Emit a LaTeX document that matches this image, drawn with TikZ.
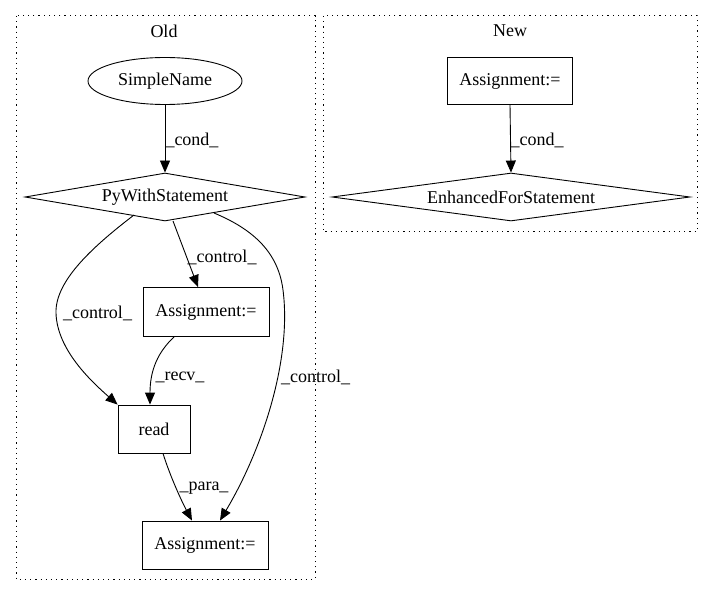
\documentclass[tikz,border=0pt]{standalone}
\usepackage{fontspec}
\setmainfont{Liberation Serif}
\usetikzlibrary{shapes.geometric,arrows.meta}
\begin{document}
\begin{tikzpicture}[x=1pt,y=-1pt,
  every node/.style={font=\fontsize{18}{21}\selectfont},
  cluster/.style={draw,line width=1pt,dash pattern=on 1.2pt off 4pt},
  box/.style={draw,line width=0.9pt,rectangle,inner sep=0pt},
  dia/.style={draw,line width=0.9pt,diamond,inner sep=0pt,aspect=5.8},
  ell/.style={draw,line width=0.9pt,ellipse,inner sep=0pt},
  edge/.style={draw,line width=0.9pt,-{Triangle[length=12pt,width=10pt]}},
  lbl/.style={inner sep=0pt,fill=none}]
\useasboundingbox (0,0) rectangle (712,596);
% clusters
\draw[cluster] (16,16) rectangle (315,579);
\draw[cluster] (323,16) rectangle (697,232);
\node[lbl] (oldlbl) at (164,31) {Old};
\node[lbl] (newlbl) at (510,31) {New};
% old nodes
\node[ell,minimum width=154,minimum height=47] (sn) at (165,81) {SimpleName};
\node[dia,minimum width=280,minimum height=48] (pw) at (165,197) {PyWithStatement};
\node[box,minimum width=126,minimum height=49] (a1) at (206,312) {Assignment:=};
\node[box,minimum width=72,minimum height=48] (rd) at (154,429) {read};
\node[box,minimum width=126,minimum height=48] (a2) at (205,545) {Assignment:=};
% new nodes
\node[box,minimum width=125,minimum height=47] (na) at (510,81) {Assignment:=};
\node[dia,minimum width=358,minimum height=48] (ef) at (511,197) {EnhancedForStatement};
% old edges
\draw[edge] (sn.south) -- (pw.north);
\node[lbl] (l1) at (192,140) {\_cond\_};
\draw[edge] ([shift={(8,24)}]pw.center) -- ([shift={(-8,0)}]a1.north);
\node[lbl] (l2) at (222,257) {\_control\_};
\draw[edge] ([shift={(-31,18)}]pw.center) .. controls (95,245) and (55,280) .. (56,313)
  .. controls (57,350) and (92,382) .. (rd.north west);
\node[lbl] (l3) at (97.5,313) {\_control\_};
\draw[edge] ([shift={(-32,0)}]a1.south) .. controls (158,352) and (150,370) .. ([shift={(-4,0)}]rd.north);
\node[lbl] (l4) at (180,377) {\_recv\_};
\draw[edge] ([shift={(49,16)}]pw.center) .. controls (250,228) and (278,250) .. (283,290)
  .. controls (292,360) and (262,450) .. ([shift={(15,0)}]a2.north);
\node[lbl] (l5) at (315.5,377) {\_control\_};
\draw[edge] ([shift={(9,0)}]rd.south) .. controls (170,476) and (182,502) .. ([shift={(-13,0)}]a2.north);
\node[lbl] (l6) at (204,488) {\_para\_};
% new edge
\draw[edge] (na.south) -- (ef.north);
\node[lbl] (l7) at (537,140) {\_cond\_};
\end{tikzpicture}
\end{document}
